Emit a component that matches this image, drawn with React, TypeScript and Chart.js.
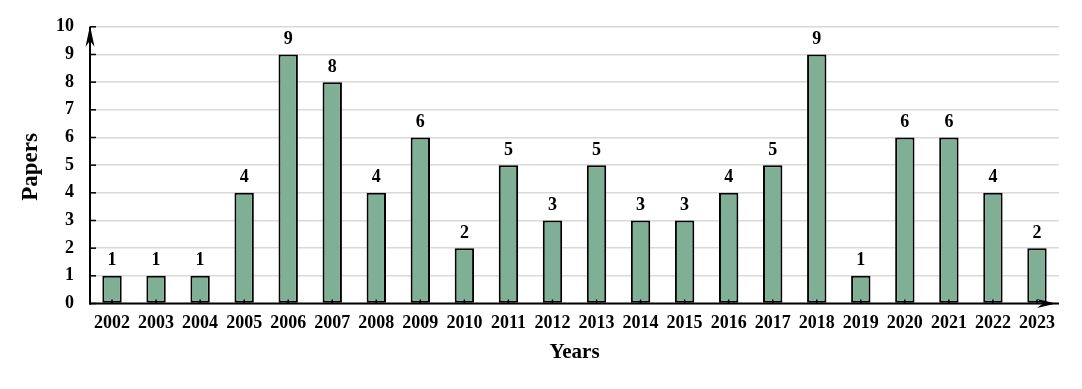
import React, { useEffect, useRef } from "react";
import { Chart, registerables } from "chart.js";

Chart.register(...registerables);

const years: string[] = [
  "2002", "2003", "2004", "2005", "2006", "2007", "2008", "2009", "2010", "2011", "2012",
  "2013", "2014", "2015", "2016", "2017", "2018", "2019", "2020", "2021", "2022", "2023",
];
const papers: number[] = [1, 1, 1, 4, 9, 8, 4, 6, 2, 5, 3, 5, 3, 3, 4, 5, 9, 1, 6, 6, 4, 2];
const yTicks: number[] = [0, 1, 2, 3, 4, 5, 6, 7, 8, 9, 10];
const xTitle = "Years";
const yTitle = "Papers";

const FONT = '"Liberation Serif", "Times New Roman", serif';
const BAR_COLOR = "#7fb096";

const decorPlugin = {
  id: "decor",
  afterDatasetsDraw(chart: any) {
    const ctx = chart.ctx as CanvasRenderingContext2D;
    const area = chart.chartArea;
    const xs = chart.scales.x;
    const ys = chart.scales.y;
    const x0 = area.left;
    const y0 = ys.getPixelForValue(0);
    const yTop = ys.getPixelForValue(10);
    const xRight = area.right;
    ctx.save();
    ctx.strokeStyle = "#000";
    ctx.fillStyle = "#000";
    // inward y ticks
    ctx.lineWidth = 1.5;
    yTicks.forEach((v) => {
      const y = ys.getPixelForValue(v);
      ctx.beginPath();
      ctx.moveTo(x0, y);
      ctx.lineTo(x0 + 6, y);
      ctx.stroke();
    });
    // inward x ticks at category centers
    years.forEach((_, i) => {
      const x = xs.getPixelForValue(i);
      ctx.beginPath();
      ctx.moveTo(x, y0);
      ctx.lineTo(x, y0 - 4);
      ctx.stroke();
    });
    // axes
    ctx.lineWidth = 2;
    ctx.beginPath();
    ctx.moveTo(x0, y0 + 1);
    ctx.lineTo(x0, yTop);
    ctx.stroke();
    ctx.beginPath();
    ctx.moveTo(x0 - 1, y0);
    ctx.lineTo(xRight, y0);
    ctx.stroke();
    // y arrow
    ctx.beginPath();
    ctx.moveTo(x0, yTop - 1);
    ctx.lineTo(x0 + 4.5, yTop + 20);
    ctx.lineTo(x0, yTop + 14);
    ctx.lineTo(x0 - 4.5, yTop + 20);
    ctx.closePath();
    ctx.fill();
    // x arrow
    const tip = xRight - 3;
    ctx.beginPath();
    ctx.moveTo(tip, y0);
    ctx.lineTo(tip - 19, y0 - 4.5);
    ctx.lineTo(tip - 13, y0);
    ctx.lineTo(tip - 19, y0 + 4.5);
    ctx.closePath();
    ctx.fill();
    // data labels
    ctx.font = `bold 18px ${FONT}`;
    ctx.textAlign = "center";
    ctx.textBaseline = "alphabetic";
    const meta = chart.getDatasetMeta(0);
    meta.data.forEach((bar: any, i: number) => {
      ctx.fillText(String(papers[i]), bar.x, bar.y - 10.5);
    });
    // titles
    ctx.font = `bold 21px ${FONT}`;
    ctx.fillText(xTitle, (area.left + area.right) / 2, 358);
    ctx.save();
    ctx.translate(37, 167);
    ctx.rotate(-Math.PI / 2);
    ctx.font = `bold 23px ${FONT}`;
    ctx.fillText(yTitle, 0, 0);
    ctx.restore();
    ctx.restore();
  },
};

export default function App() {
  const ref = useRef<HTMLCanvasElement>(null);
  useEffect(() => {
    document.body.style.margin = "0";
    const canvas = ref.current!;
    const chart = new Chart(canvas, {
      type: "bar",
      data: {
        labels: years,
        datasets: [
          {
            data: papers,
            backgroundColor: BAR_COLOR,
            borderColor: "#000",
            borderWidth: 2,
            borderSkipped: false,
            barPercentage: 0.44,
            categoryPercentage: 1,
          },
        ],
      },
      options: {
        animation: false,
        responsive: false,
        devicePixelRatio: 1,
        layout: { padding: { left: 0, top: 22, right: 23, bottom: 0 } },
        plugins: { legend: { display: false }, tooltip: { enabled: false } },
        scales: {
          x: {
            offset: true,
            border: { display: false },
            grid: { display: false, drawTicks: false },
            ticks: {
              color: "#000",
              font: { family: FONT, size: 18, weight: "bold" },
              padding: 9,
              maxRotation: 0,
              autoSkip: false,
            },
            afterFit: (s: any) => {
              s.height = 389 - 303.5;
            },
          },
          y: {
            min: 0,
            max: 10,
            border: { display: false },
            grid: { color: "#d9d9d9", lineWidth: 1.5, drawTicks: false },
            ticks: {
              stepSize: 1,
              color: "#000",
              font: { family: FONT, size: 18, weight: "bold" },
              padding: 16,
            },
            afterFit: (s: any) => {
              s.width = 90;
            },
          },
        },
      },
      plugins: [decorPlugin],
    });
    return () => chart.destroy();
  }, []);
  return (
    <div style={{ width: 1082, height: 389, background: "#fff" }}>
      <canvas ref={ref} width={1082} height={389} style={{ display: "block" }} />
    </div>
  );
}
